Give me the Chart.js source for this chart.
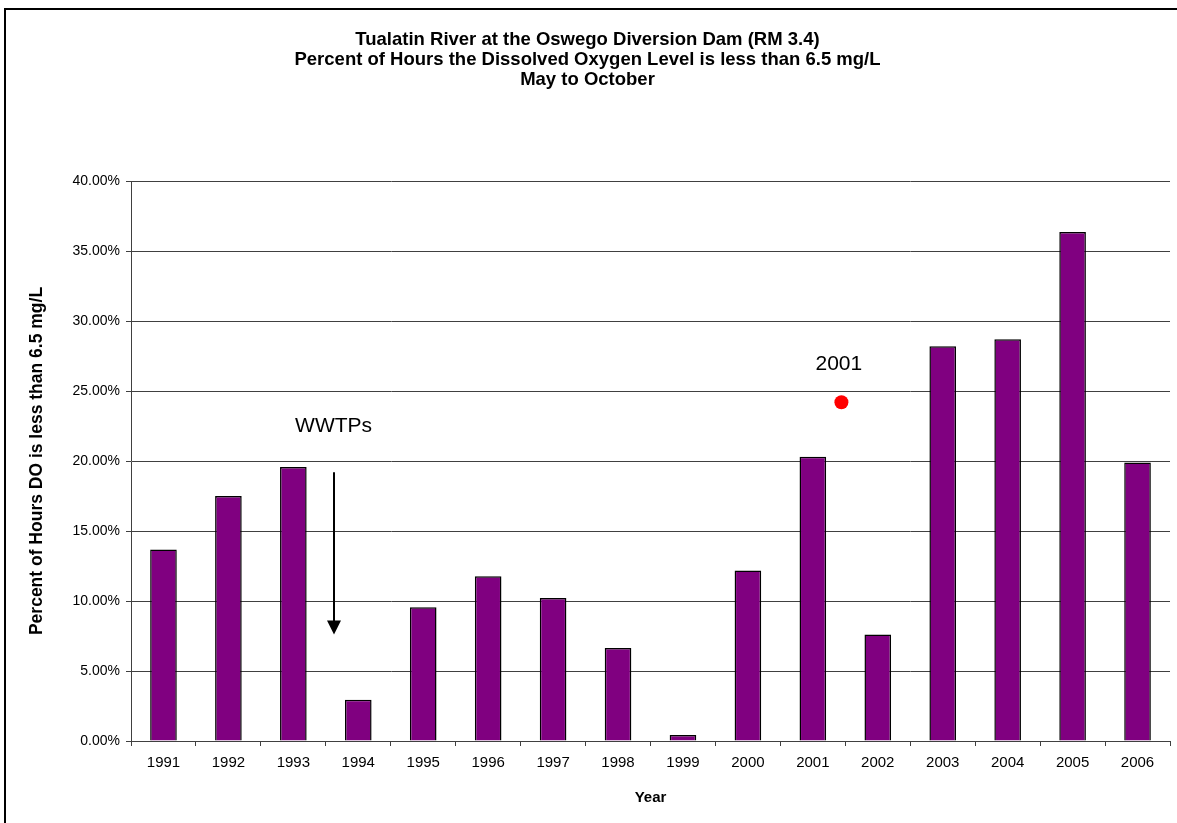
<!DOCTYPE html>
<html>
<head>
<meta charset="utf-8">
<script src="https://cdn.jsdelivr.net/npm/chart.js@4.4.1/dist/chart.umd.min.js"></script>
<style>
html, body { margin: 0; padding: 0; background: #fff; overflow: hidden; }
#frame { position: absolute; left: 4px; top: 8px; width: 1200px; height: 900px; border: 2px solid #000; box-sizing: border-box; }
#wrap { position: absolute; left: 0; top: 0; width: 1177px; height: 823px; }
</style>
</head>
<body>
<div id="frame"></div>
<div id="wrap"><canvas id="main" width="1177" height="823"></canvas></div>
<script>
// data
var years = ['1991', '1992', '1993', '1994', '1995', '1996', '1997', '1998',
	'1999', '2000', '2001', '2002', '2003', '2004', '2005', '2006'];
var percentHoursLow = [13.68, 17.5, 19.58, 2.94, 9.55, 11.77, 10.22, 6.64,
	0.43, 12.18, 20.3, 7.6, 28.2, 28.7, 36.35, 19.9];
var yTickValues = [0, 5, 10, 15, 20, 25, 30, 35, 40];

// the red 2001 marker (year position on a continuous axis)
var markerYears = [2001.44];
var markerValues = [24.2];

// text notes and the WWTPs arrow
var noteTexts = ['WWTPs', '2001'];
var noteYears = [1993.62, 2001.4];
var noteValues = [22.5, 26.9];
var arrowYears = [1993.62];
var arrowFrom = [19.2];
var arrowTo = [7.6];

var FONT = 'Liberation Sans, Arial, Helvetica, sans-serif';

var notesPlugin = {
	id: 'notes',
	afterDatasetsDraw: function(chart){
		var ctx = chart.ctx,
			xs = chart.scales.x2,
			ys = chart.scales.y;
		ctx.save();
		ctx.fillStyle = '#000';
		ctx.font = '21px ' + FONT;
		ctx.textAlign = 'center';
		ctx.textBaseline = 'middle';
		for (var i = 0; i < noteTexts.length; i++){
			ctx.fillText(noteTexts[i], xs.getPixelForValue(noteYears[i]), ys.getPixelForValue(noteValues[i]));
		}
		//arrow
		ctx.strokeStyle = '#000';
		ctx.lineWidth = 2;
		for (var i = 0; i < arrowYears.length; i++){
			var ax = Math.round(xs.getPixelForValue(arrowYears[i])),
				y1 = ys.getPixelForValue(arrowFrom[i]),
				y2 = ys.getPixelForValue(arrowTo[i]);
			ctx.beginPath();
			ctx.moveTo(ax, y1);
			ctx.lineTo(ax, y2 - 12);
			ctx.stroke();
			ctx.beginPath();
			ctx.moveTo(ax - 7, y2 - 14);
			ctx.lineTo(ax + 7, y2 - 14);
			ctx.lineTo(ax, y2);
			ctx.closePath();
			ctx.fill();
		}
		ctx.restore();
	}
};

var markerData = [];
for (var i = 0; i < markerYears.length; i++){
	markerData.push({x: markerYears[i], y: markerValues[i]});
}

var ctx = document.getElementById('main').getContext('2d');
var chart = new Chart(ctx, {
	type: 'bar',
	data: {
		labels: years,
		datasets: [{
			data: percentHoursLow,
			backgroundColor: '#800080',
			borderColor: '#000',
			borderWidth: 1.5,
			grouped: false,
			barPercentage: 0.41,
			categoryPercentage: 1
		}, {
			type: 'scatter',
			data: markerData,
			xAxisID: 'x2',
			pointRadius: 7,
			pointBackgroundColor: '#ff0000',
			pointBorderWidth: 0
		}]
	},
	options: {
		responsive: false,
		animation: false,
		layout: { padding: { left: 0, right: 2, top: 0, bottom: 0 } },
		plugins: {
			legend: { display: false },
			tooltip: { enabled: false },
			title: {
				display: true,
				text: ['Tualatin River at the Oswego Diversion Dam (RM 3.4)',
					'Percent of Hours the Dissolved Oxygen Level is less than 6.5 mg/L',
					'May to October'],
				color: '#000',
				font: { family: FONT, size: 18.5, weight: 'bold', lineHeight: '20px' },
				padding: { top: 30, bottom: 91 }
			}
		},
		scales: {
			x: {
				type: 'category',
				offset: true,
				grid: { offset: true, drawOnChartArea: false, drawTicks: true, tickLength: 5, color: '#404040' },
				border: { color: '#404040', width: 1 },
				ticks: { color: '#000', font: { family: FONT, size: 15 }, padding: 8, maxRotation: 0, autoSkip: false },
				title: { display: true, text: 'Year', color: '#000', font: { family: FONT, size: 15, weight: 'bold' }, padding: { top: 0, bottom: 16 } },
				afterFit: function(s){ s.height = 82; }
			},
			x2: {
				type: 'linear',
				display: false,
				offset: false,
				grid: { offset: false },
				min: 1990.5,
				max: 2006.5
			},
			y: {
				min: 0,
				max: 40,
				afterBuildTicks: function(s){
					s.ticks = yTickValues.map(function(v){ return {value: v}; });
				},
				grid: { color: '#404040', tickLength: 5, drawTicks: true },
				border: { color: '#404040', width: 1 },
				ticks: {
					color: '#000',
					font: { family: FONT, size: 14 },
					padding: 6,
					callback: function(v){ return v.toFixed(2) + '%'; }
				},
				title: { display: true, text: 'Percent of Hours DO is less than 6.5 mg/L', color: '#000', font: { family: FONT, size: 17.5, weight: 'bold' }, padding: { top: 27, bottom: 0 } },
				afterFit: function(s){ s.width = 131; }
			}
		}
	},
	plugins: [notesPlugin]
});
</script>
</body>
</html>
